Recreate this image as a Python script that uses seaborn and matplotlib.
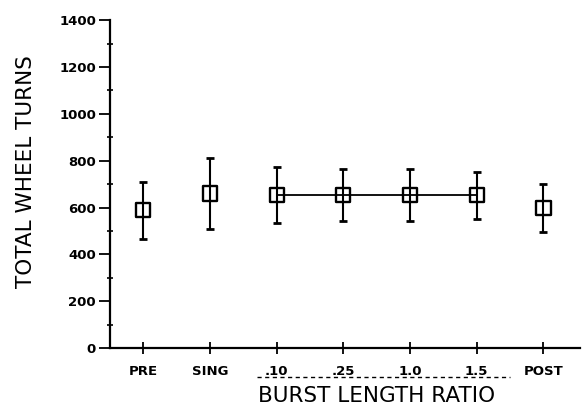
import matplotlib
matplotlib.use("Agg")
import matplotlib.pyplot as plt
import seaborn as sns
import pandas as pd
from matplotlib.ticker import MultipleLocator
import matplotlib.transforms as mtransforms

categories = ["PRE", "SING", ".10", ".25", "1.0", "1.5", "POST"]
means = [588, 660, 653, 653, 653, 653, 598]
errors = [122, 150, 120, 110, 110, 100, 102]
linked = [".10", ".25", "1.0", "1.5"]

df = pd.DataFrame({"cat": categories, "x": range(len(categories)),
                   "mean": means, "err": errors})
df_link = df[df["cat"].isin(linked)]

sns.set_style("ticks")
plt.rcParams["text.color"] = "black"
plt.rcParams["axes.labelcolor"] = "black"
plt.rcParams["xtick.color"] = "black"
plt.rcParams["ytick.color"] = "black"
fig = plt.figure(figsize=(5.83, 4.04), dpi=100)
ax = fig.add_axes([0.1887, 0.1386, 0.8063, 0.8114])

ax.errorbar(df["x"], df["mean"], yerr=df["err"], fmt="none", ecolor="black",
            elinewidth=1.5, capsize=3, capthick=2, zorder=2)
sns.lineplot(data=df_link, x="x", y="mean", color="black", linewidth=1.3,
             ax=ax, zorder=3, legend=False)
sns.scatterplot(data=df, x="x", y="mean", marker="s", s=105,
                facecolor="none", edgecolor="black", linewidth=1.7,
                ax=ax, zorder=4, legend=False)

ax.set_xlim(-0.5, 6.55)
ax.set_ylim(0, 1400)
ax.yaxis.set_major_locator(MultipleLocator(200))
ax.yaxis.set_minor_locator(MultipleLocator(100))
ax.set_xticks(list(df["x"]))
ax.set_xticklabels(categories, fontsize=9.5, fontweight="bold", color="black")
for lab in ax.get_yticklabels():
    lab.set_fontweight("bold")
    lab.set_fontsize(9.5)
    lab.set_color("black")
ax.tick_params(axis="y", which="major", direction="out", length=8, width=1.3, pad=2)
ax.tick_params(axis="y", which="minor", direction="inout", length=5, width=1.2)
ax.tick_params(axis="x", which="major", direction="inout", length=8, width=1.3, pad=8)

for side in ["top", "right"]:
    ax.spines[side].set_visible(False)
ax.spines["left"].set_linewidth(1.6)
ax.spines["bottom"].set_linewidth(1.6)
ax.spines["left"].set_color("black")
ax.spines["bottom"].set_color("black")

ax.set_xlabel("")
ax.set_ylabel("TOTAL WHEEL TURNS", fontsize=15.5, color="black")
ax.yaxis.set_label_coords(-0.158, 0.537)

trans = mtransforms.blended_transform_factory(ax.transData, ax.transAxes)
ax.plot([1.7, 5.5], [-0.087, -0.087], transform=trans, color="black",
        linestyle=(0, (3, 2.5)), linewidth=1.0, clip_on=False)
ax.text(3.5, -0.145, "BURST LENGTH RATIO", transform=trans, ha="center",
        va="center", fontsize=15.5, color="black")

fig.savefig("out.png", dpi=100)
